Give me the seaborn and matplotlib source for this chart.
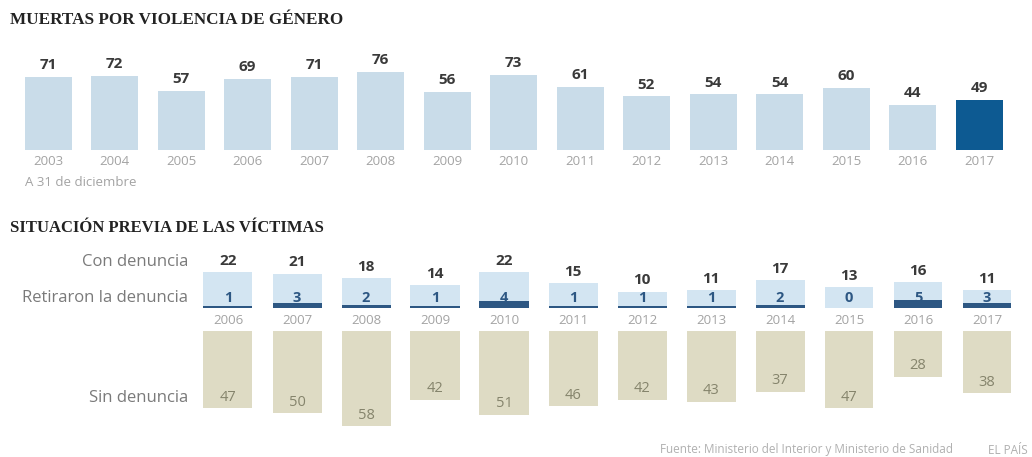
import matplotlib
matplotlib.use("Agg")
import matplotlib.pyplot as plt
import seaborn as sns
import pandas as pd

# --- data -------------------------------------------------------------
years_total = [str(y) for y in range(2003, 2018)]
deaths_total = [71, 72, 57, 69, 71, 76, 56, 73, 61, 52, 54, 54, 60, 44, 49]

years_prev = [str(y) for y in range(2006, 2018)]
con_denuncia = [22, 21, 18, 14, 22, 15, 10, 11, 17, 13, 16, 11]
retiraron = [1, 3, 2, 1, 4, 1, 1, 1, 2, 0, 5, 3]
sin_denuncia = [47, 50, 58, 42, 51, 46, 42, 43, 37, 47, 28, 38]

# --- style ------------------------------------------------------------
sns.set_theme(style="white")
plt.rcParams["font.family"] = ["Open Sans", "DejaVu Sans"]

W, H = 1032, 457
DPI = 100
fig = plt.figure(figsize=(W / DPI, H / DPI), dpi=DPI)
fig.patch.set_facecolor("white")

LIGHT_BAR = "#c9dce9"
HIGHLIGHT = "#0d5a92"
CON_BAR = "#d3e5f2"
RET_BAR = "#2d5783"
SIN_BAR = "#dedbc4"
NUM_DARK = "#3a3a3a"
YEAR_GRAY = "#a3a3a3"
LABEL_GRAY = "#7a7a7a"
TITLE_FONT = ["Liberation Serif", "DejaVu Serif"]


def px_axes(x0, y_top, x1, y_bot):
    """Axes placed by pixel box (origin at the top-left corner)."""
    ax = fig.add_axes([x0 / W, 1 - y_bot / H, (x1 - x0) / W, (y_bot - y_top) / H])
    ax.set_axis_off()
    return ax


def fig_text(x, y, s, **kw):
    fig.text(x / W, 1 - y / H, s, **kw)


# --- top panel: total deaths -----------------------------------------
step_top, c0_top = 66.5, 48.0
px_per_unit_top = 1.03
ax1 = px_axes(0, 40, W, 150)
df_top = pd.DataFrame({"year": years_total, "value": deaths_total})
palette_top = {y: (HIGHLIGHT if y == "2017" else LIGHT_BAR) for y in years_total}
sns.barplot(data=df_top, x="year", y="value", hue="year", palette=palette_top,
            width=47 / step_top, legend=False, ax=ax1, saturation=1, linewidth=0)
ax1.set_xlim(-c0_top / step_top, (W - c0_top) / step_top)
ax1.set_ylim(0, 110 / px_per_unit_top)
ax1.set_axis_off()
for i, (y, v) in enumerate(zip(years_total, deaths_total)):
    ax1.annotate(str(v), (i, v), xytext=(0, 3.5), textcoords="offset points",
                 ha="center", va="bottom", fontsize=11, fontweight="bold",
                 color=NUM_DARK)
    ax1.annotate(y, (i, 0), xytext=(0, -3.5), textcoords="offset points",
                 ha="center", va="top", fontsize=9.5, color=YEAR_GRAY)

fig_text(10, 20, "MUERTAS POR VIOLENCIA DE GÉNERO", family=TITLE_FONT,
         fontweight="bold", fontsize=12.3, color="#222222", va="center", ha="left")
fig_text(25, 183, "A 31 de diciembre", fontsize=9.5, color=YEAR_GRAY,
         va="center", ha="left")

# --- bottom panel: previous situation ---------------------------------
step_b, c0_b = 69.0, 228.0
bw = 49 / step_b
ppu_b = 1.64
xlim_b = (-c0_b / step_b, (W - c0_b) / step_b)

# bars above the line: with a complaint, and those who withdrew it
ax2 = px_axes(0, 250, W, 308)
df_con = pd.DataFrame({"year": years_prev, "con": con_denuncia, "ret": retiraron})
sns.barplot(data=df_con, x="year", y="con", color=CON_BAR, width=bw,
            ax=ax2, saturation=1, linewidth=0)
sns.barplot(data=df_con, x="year", y="ret", color=RET_BAR, width=bw,
            ax=ax2, saturation=1, linewidth=0)
ax2.set_xlim(*xlim_b)
ax2.set_ylim(0, 58 / ppu_b)
ax2.set_axis_off()
for i, (y, c, r) in enumerate(zip(years_prev, con_denuncia, retiraron)):
    ax2.annotate(str(c), (i, c), xytext=(0, 3), textcoords="offset points",
                 ha="center", va="bottom", fontsize=11, fontweight="bold",
                 color=NUM_DARK)
    ax2.annotate(str(r), (i, 0), xytext=(0, 2), textcoords="offset points",
                 ha="center", va="bottom", fontsize=10.5, fontweight="bold",
                 color=RET_BAR)
    ax2.annotate(y, (i, 0), xytext=(0, -4), textcoords="offset points",
                 ha="center", va="top", fontsize=9.5, color=YEAR_GRAY)

# bars hanging below: without a complaint
ax3 = px_axes(0, 331, W, 440)
df_sin = pd.DataFrame({"year": years_prev, "sin": sin_denuncia})
sns.barplot(data=df_sin, x="year", y="sin", color=SIN_BAR, width=bw,
            ax=ax3, saturation=1, linewidth=0)
ax3.set_xlim(*xlim_b)
ax3.set_ylim(109 / ppu_b, 0)
ax3.set_axis_off()
for i, v in enumerate(sin_denuncia):
    ax3.annotate(str(v), (i, v), xytext=(0, 2.5), textcoords="offset points",
                 ha="center", va="bottom", fontsize=10.5, color="#85846c")

fig_text(10, 228, "SITUACIÓN PREVIA DE LAS VÍCTIMAS", family=TITLE_FONT,
         fontweight="bold", fontsize=12, color="#222222", va="center", ha="left")
for label, ypx in [("Con denuncia", 262), ("Retiraron la denuncia", 298),
                   ("Sin denuncia", 398)]:
    fig_text(188, ypx, label, fontsize=12, color=LABEL_GRAY, va="center", ha="right")

fig_text(953, 450, "Fuente: Ministerio del Interior y Ministerio de Sanidad",
         fontsize=8.5, color="#b0b0b0", va="center", ha="right")
fig_text(1028, 450, "EL PAÍS", fontsize=8.5, color="#b0b0b0", va="center", ha="right")

fig.savefig("out.png", dpi=DPI, facecolor="white")
